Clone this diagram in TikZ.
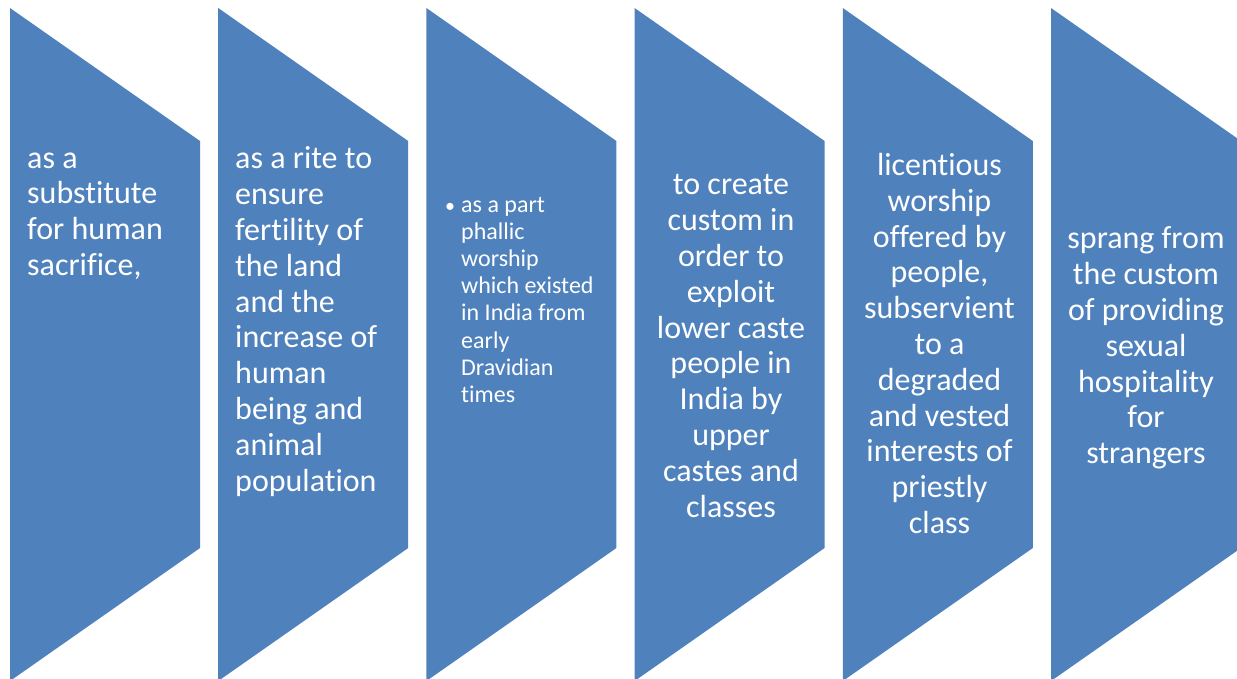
\documentclass[tikz,border=0pt]{standalone}
\usepackage{fontspec}
\setmainfont[Ligatures=CommonOff]{Carlito}
\definecolor{chevblue}{HTML}{4F81BD}

\begin{document}
\begin{tikzpicture}[x=1pt,y=-1pt,
  chevron/.style={fill=chevblue},
  label text/.style={text=white,inner sep=0pt,font=\fontsize{32}{35.8}\selectfont},
  small text/.style={text=white,inner sep=0pt,font=\fontsize{24}{27.1}\selectfont}]

  \useasboundingbox (0,0) rectangle (1237,678);
  \clip (0,0) rectangle (1237,678);

  % the six arrow blocks
  \foreach \x in {10,218.2,426.4,634.6,842.8,1051}
    \fill[chevron] (\x,8) -- ++(190,133) -- ++(0,407) -- ++(-190,133) -- cycle;

  \node[label text,align=left,anchor=west] (1) at (27,216)
    {as a\\substitute\\for human\\sacrifice,};
  \node[label text,align=left,anchor=west] (2) at (235,321.5)
    {as a rite to\\ensure\\fertility of\\the land\\and the\\increase of\\human\\being and\\animal\\population};
  % bulleted list, first baseline at the anchor
  \node[small text,anchor=base west] (3) at (445,212.5)
    {\makebox[16pt][l]{\fontsize{20}{20}\selectfont\textbullet}%
     \begin{tabular}[t]{@{}l@{}}as a part\\phallic\\worship\\which existed\\in India from\\early\\Dravidian\\times\end{tabular}};
  \node[label text,align=center] (4) at (731,346)
    {to create\\custom in\\order to\\exploit\\lower caste\\people in\\India by\\upper\\castes and\\classes};
  \node[label text,align=center] (5) at (939.5,343.5)
    {licentious\\worship\\offered by\\people,\\subservient\\to a\\degraded\\and vested\\interests of\\priestly\\class};
  \node[label text,align=center] (6) at (1146,348)
    {sprang from\\the custom\\of providing\\sexual\\hospitality\\for\\strangers};
\end{tikzpicture}
\end{document}
